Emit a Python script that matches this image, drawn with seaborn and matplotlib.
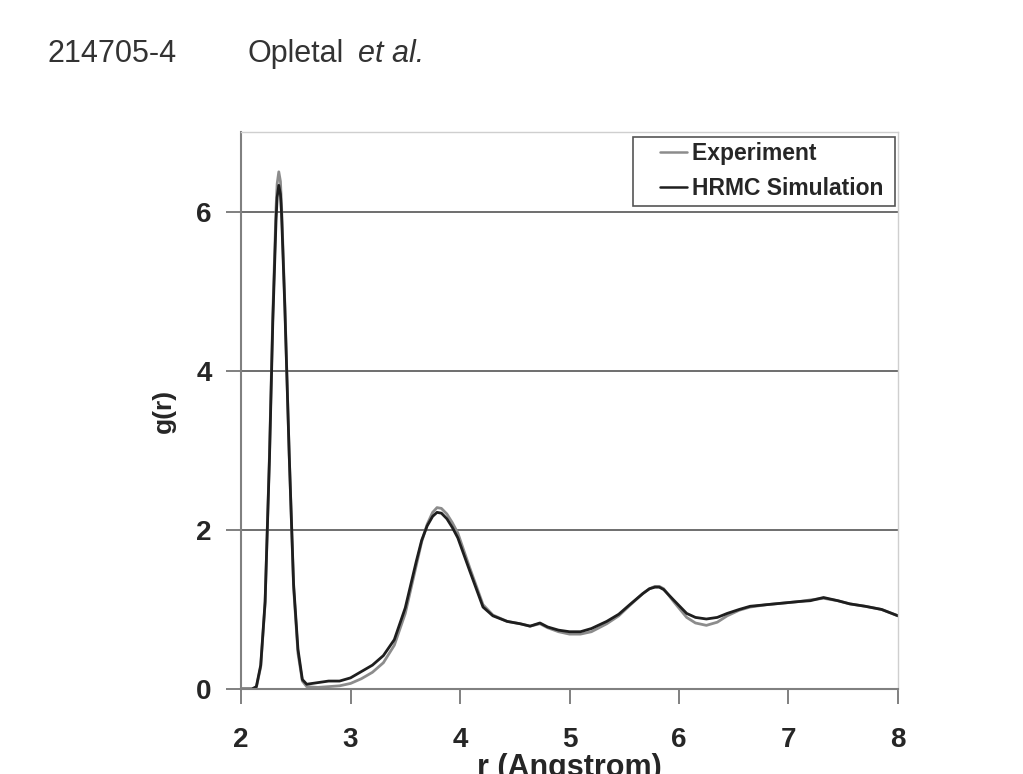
import matplotlib
matplotlib.use("Agg")
import matplotlib.pyplot as plt
import seaborn as sns
import pandas as pd

# radial distance (Angstrom)
r = [2.00, 2.10, 2.14, 2.18, 2.22, 2.26, 2.29, 2.32, 2.33, 2.345, 2.36, 2.37, 2.40,
     2.44, 2.48, 2.52, 2.56, 2.60, 2.70, 2.80, 2.90, 3.00, 3.10, 3.20, 3.30, 3.40,
     3.50, 3.60, 3.65, 3.70, 3.75, 3.79, 3.83, 3.88, 3.93, 3.98, 4.09, 4.21, 4.30,
     4.43, 4.55, 4.64, 4.73, 4.80, 4.90, 5.00, 5.10, 5.20, 5.34, 5.45, 5.55, 5.67,
     5.73, 5.78, 5.82, 5.86, 5.95, 6.07, 6.15, 6.25, 6.35, 6.44, 6.55, 6.65, 6.80,
     6.95, 7.10, 7.20, 7.32, 7.45, 7.56, 7.70, 7.85, 8.00]

# measured pair distribution
g_experiment = [0.00, 0.00, 0.02, 0.28, 1.08, 2.95, 4.70, 6.05, 6.35, 6.50, 6.38, 6.08, 4.85,
                2.95, 1.28, 0.45, 0.10, 0.03, 0.02, 0.03, 0.04, 0.07, 0.13, 0.21, 0.33, 0.55,
                0.95, 1.55, 1.85, 2.07, 2.22, 2.28, 2.27, 2.20, 2.09, 1.96, 1.52, 1.06, 0.93,
                0.85, 0.82, 0.79, 0.82, 0.77, 0.72, 0.69, 0.69, 0.72, 0.82, 0.92, 1.05, 1.20,
                1.26, 1.29, 1.29, 1.26, 1.10, 0.90, 0.83, 0.80, 0.84, 0.92, 0.99, 1.03, 1.06,
                1.08, 1.10, 1.12, 1.14, 1.11, 1.07, 1.04, 1.00, 0.92]

# HRMC model pair distribution
g_hrmc = [0.00, 0.00, 0.03, 0.30, 1.10, 2.90, 4.60, 5.90, 6.18, 6.33, 6.22, 5.98, 4.80,
          2.95, 1.32, 0.50, 0.12, 0.06, 0.08, 0.10, 0.10, 0.14, 0.22, 0.30, 0.42, 0.62,
          1.02, 1.60, 1.87, 2.05, 2.17, 2.22, 2.21, 2.14, 2.03, 1.90, 1.48, 1.03, 0.92,
          0.85, 0.82, 0.79, 0.83, 0.78, 0.74, 0.72, 0.72, 0.76, 0.85, 0.94, 1.06, 1.20,
          1.26, 1.28, 1.28, 1.25, 1.12, 0.95, 0.90, 0.88, 0.90, 0.95, 1.00, 1.04, 1.06,
          1.08, 1.10, 1.11, 1.15, 1.11, 1.07, 1.04, 1.00, 0.92]

series_names = ["Experiment", "HRMC Simulation"]
x_ticks = [2, 3, 4, 5, 6, 7, 8]
y_ticks = [0, 2, 4, 6]

df = pd.concat([
    pd.DataFrame({"r": r, "g": g_experiment, "series": series_names[0]}),
    pd.DataFrame({"r": r, "g": g_hrmc, "series": series_names[1]}),
], ignore_index=True)

sns.set_style("white")
plt.rcParams["font.family"] = ["Liberation Sans", "DejaVu Sans"]

fig = plt.figure(figsize=(10.23, 7.74), dpi=100)
ax = fig.add_axes([0.2356, 0.1098, 0.6422, 0.7196])

ax.set_xlim(2, 8)
ax.set_ylim(0, 7)
ax.set_yticks(y_ticks)
ax.set_xticks(x_ticks)
ax.yaxis.grid(True, color="#6e6e6e", linewidth=1.4)
ax.set_axisbelow(True)

sns.lineplot(data=df, x="r", y="g", hue="series", hue_order=series_names,
             palette={"Experiment": "#8c8c8c", "HRMC Simulation": "#1e1e1e"},
             linewidth=2.0, ax=ax, legend=True, sort=False)

for side in ["left", "bottom"]:
    ax.spines[side].set_color("#808080")
    ax.spines[side].set_linewidth(1.5)
for side in ["top", "right"]:
    ax.spines[side].set_color("#cfcfcf")
    ax.spines[side].set_linewidth(1.0)

ax.tick_params(axis="both", direction="out", length=11, width=1.4, color="#808080",
               labelsize=20, bottom=True, left=True)
ax.tick_params(axis="x", pad=16)
ax.tick_params(axis="y", pad=10)
for lab in ax.get_xticklabels() + ax.get_yticklabels():
    lab.set_fontweight("bold")

ax.set_xlabel("r (Angstrom)", fontsize=22, fontweight="bold", labelpad=0)
ax.set_ylabel("g(r)", fontsize=19, fontweight="bold", labelpad=14.5)

# legend: long handle slot with a short swatch at its right end, padded labels
handles, _ = ax.get_legend_handles_labels()
fs_leg = 16.5
leg = ax.legend(handles, [name + " " for name in series_names],
                loc="upper right", bbox_to_anchor=(1.0, 0.997), frameon=True,
                fancybox=False, edgecolor="#555555", framealpha=1,
                prop={"weight": "bold", "size": fs_leg}, handlelength=2.12,
                handletextpad=0.22, borderpad=0.24, labelspacing=0.52,
                borderaxespad=0.13)
leg.get_frame().set_linewidth(1.2)
for h in leg.get_lines():
    h.set_linewidth(1.8)
    xd = list(h.get_xdata())
    yd = list(h.get_ydata())
    x_end = max(xd)
    h.set_data([x_end - 19.5, x_end], [yd[0], yd[0]])

fig.text(0.046, 0.92, "214705-4", fontsize=22, color="#333333", ha="left", va="baseline")
fig.text(0.2415, 0.92, "Opletal", fontsize=22, color="#333333", ha="left", va="baseline")
fig.text(0.350, 0.92, "et al.", fontsize=22, color="#333333", ha="left", va="baseline",
         style="italic")

fig.savefig("out.png", dpi=100)
